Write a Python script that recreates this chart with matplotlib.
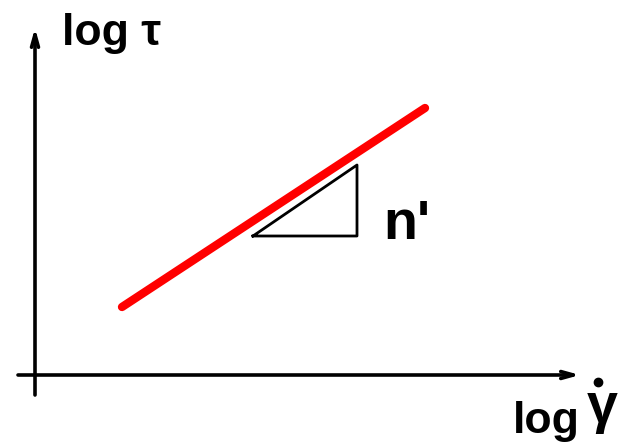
import matplotlib.pyplot as plt

# flow curve on log-log axes (arbitrary units, origin at the axes corner)
line_x = [87, 390]
line_y = [68, 267]

# slope triangle under the line
tri_x = [218, 322, 322, 218]
tri_y = [139, 139, 210, 139]

fig = plt.figure(figsize=(6.43, 4.48), dpi=100)
ax = fig.add_axes([0, 0, 1, 1])
ax.set_xlim(-35, 608)
ax.set_ylim(-73, 375)
ax.axis("off")

arrow = dict(arrowstyle="->,head_length=0.9,head_width=0.25", lw=2.6, color="black",
             shrinkA=0, shrinkB=0)
ax.annotate("", xy=(0, 347), xytext=(0, -20), arrowprops=arrow)
ax.annotate("", xy=(545, 0), xytext=(-17, 0), arrowprops=arrow)

ax.plot(line_x, line_y, color="#ff0000", lw=6, solid_capstyle="round")
ax.plot(tri_x, tri_y, color="black", lw=2)

font = dict(family="Liberation Sans", fontweight="bold", color="black")
ax.text(27, 330, "log \u03c4", fontsize=32, va="baseline", ha="left", **font)
ax.text(348, 136, "n'", fontsize=40, va="baseline", ha="left", **font)
ax.text(478, -58, "log", fontsize=32, va="baseline", ha="left", **font)
ax.text(552, -47, "\u03b3", fontsize=40, va="baseline", ha="left", **font)
ax.plot([563], [-7], "o", color="black", ms=6)

fig.savefig("out.png", dpi=100)
